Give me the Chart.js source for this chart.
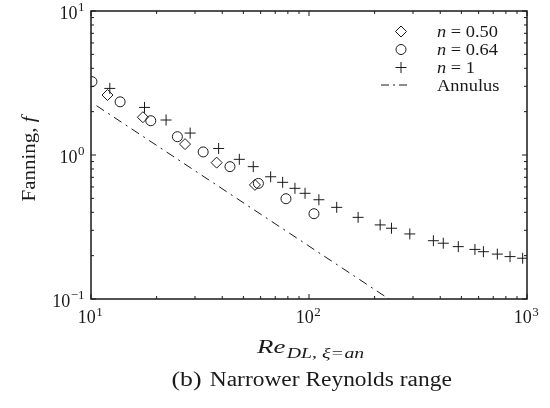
<!DOCTYPE html>
<html>
<head>
<meta charset="utf-8">
<script src="https://cdn.jsdelivr.net/npm/chart.js@4.4.1/dist/chart.umd.min.js"></script>
<style>
  html, body { margin: 0; padding: 0; background: #fff; }
  #wrap { width: 550px; height: 408px; position: relative; }
</style>
</head>
<body>
<div id="wrap"><canvas id="c" width="550" height="408"></canvas></div>
<script>
// ---- Data ----
const n050Re = [11.9, 17.3, 27.0, 37.7, 56.5];
const n050F  = [2.61, 1.83, 1.19, 0.885, 0.62];

const n064Re = [10.1, 13.6, 18.8, 24.9, 32.7, 43.4, 58.6, 78.4, 105.4];
const n064F  = [3.23, 2.34, 1.73, 1.34, 1.05, 0.83, 0.635, 0.497, 0.391];

const n1Re = [12.2, 17.6, 22.1, 28.5, 38.5, 47.9, 55.5, 66.7, 75.7, 86.2, 95.9, 111, 134, 168, 212, 239, 290, 372, 413, 484, 577, 631, 731, 836, 955];
const n1F  = [2.90, 2.14, 1.75, 1.42, 1.11, 0.933, 0.830, 0.706, 0.646, 0.587, 0.542, 0.489, 0.433, 0.369, 0.327, 0.310, 0.283, 0.254, 0.244, 0.231, 0.221, 0.213, 0.205, 0.197, 0.192];

const annRe = [10.6, 240];
const annF  = [2.2, 0.097];

const xTickExps = [1, 2, 3];
const yTickExps = [-1, 0, 1];
const legendLabels = ['0.50', '0.64', '1', 'Annulus'];
const xTitleMain = 'Re';
const yTitleMain = 'Fanning, ';
const yTitleVar = 'f';
const captionTag = '(b)';
const captionText = 'Narrower Reynolds range';

const toXY = (xs, ys) => xs.map((x, i) => ({ x: x, y: ys[i] }));

const INK = '#1a1a1a';
const SERIF = '"Liberation Serif", "Times New Roman", serif';

function runsWidth(ctx, runs) {
  let w = 0;
  for (const r of runs) { ctx.font = r.font; w += ctx.measureText(r.t).width; }
  return w;
}
function drawRuns(ctx, runs, x, y, sx) {
  sx = sx || 1;
  ctx.save();
  ctx.translate(x, y);
  ctx.scale(sx, 1);
  let cx = 0;
  for (const r of runs) {
    ctx.font = r.font;
    ctx.fillText(r.t, cx + (r.dx || 0), r.dy || 0);
    cx += ctx.measureText(r.t).width + (r.dx || 0);
  }
  ctx.restore();
}
function drawFit(ctx, runs, x, y, targetW) {
  const w = runsWidth(ctx, runs);
  drawRuns(ctx, runs, x, y, targetW / w);
  return targetW / w;
}
function powRuns(e) {
  const s = e < 0 ? '\u2212' + Math.abs(e) : String(e);
  return [
    { t: '10', font: '18px ' + SERIF },
    { t: s, font: '13px ' + SERIF, dy: -7.5, dx: 0.5 }
  ];
}

const decor = {
  id: 'decor',
  afterDraw(chart) {
    const ctx = chart.ctx;
    const ca = chart.chartArea;
    const xs = chart.scales.x, ys = chart.scales.y;
    ctx.save();
    ctx.strokeStyle = INK;
    ctx.fillStyle = INK;

    // frame
    ctx.lineWidth = 1.5;
    ctx.strokeRect(ca.left, ca.top, ca.right - ca.left, ca.bottom - ca.top);

    // ticks (inside, all four sides)
    ctx.lineWidth = 1;
    const majorLen = 5, minorLen = 3;
    for (let d = 1; d <= 3; d++) {
      for (let k = 1; k <= 9; k++) {
        const v = k * Math.pow(10, d);
        if (v > 1000) break;
        const px = xs.getPixelForValue(v);
        const len = k === 1 ? majorLen : minorLen;
        ctx.beginPath();
        ctx.moveTo(px, ca.bottom); ctx.lineTo(px, ca.bottom - len);
        ctx.moveTo(px, ca.top); ctx.lineTo(px, ca.top + len);
        ctx.stroke();
      }
    }
    for (let d = -1; d <= 1; d++) {
      for (let k = 1; k <= 9; k++) {
        const v = k * Math.pow(10, d);
        if (v > 10) break;
        const py = ys.getPixelForValue(v);
        const len = k === 1 ? majorLen : minorLen;
        ctx.beginPath();
        ctx.moveTo(ca.left, py); ctx.lineTo(ca.left + len, py);
        ctx.moveTo(ca.right, py); ctx.lineTo(ca.right - len, py);
        ctx.stroke();
      }
    }

    // tick labels
    ctx.textBaseline = 'alphabetic';
    ctx.textAlign = 'left';
    for (const e of xTickExps) {
      const px = xs.getPixelForValue(Math.pow(10, e));
      const runs = powRuns(e);
      const w = runsWidth(ctx, runs);
      drawRuns(ctx, runs, px - w / 2 - 1, ca.bottom + 24);
    }
    for (const e of yTickExps) {
      const py = ys.getPixelForValue(Math.pow(10, e));
      const runs = powRuns(e);
      const w = runsWidth(ctx, runs);
      drawRuns(ctx, runs, ca.left - 7 - w, py + 7.5);
    }

    // x title: Re_{DL,xi=an}
    drawFit(ctx, [
      { t: xTitleMain, font: 'italic 19px ' + SERIF },
      { t: 'DL', font: 'italic 14px ' + SERIF, dy: 5, dx: 1 },
      { t: ', ', font: '14px ' + SERIF, dy: 5 },
      { t: 'ξ', font: 'italic 14px ' + SERIF, dy: 5 },
      { t: '=', font: '14px ' + SERIF, dy: 5, dx: 1 },
      { t: 'an', font: 'italic 14px ' + SERIF, dy: 5, dx: 1 }
    ], 257, 353, 103);

    // y title (rotated)
    ctx.save();
    ctx.translate(35, 201.5);
    ctx.rotate(-Math.PI / 2);
    drawFit(ctx, [
      { t: yTitleMain, font: '18px ' + SERIF },
      { t: yTitleVar, font: 'italic 18px ' + SERIF }
    ], 0, 0, 85);
    ctx.restore();

    // caption
    drawFit(ctx, [
      { t: captionTag, font: '22px ' + SERIF },
      { t: ' ', font: '20px ' + SERIF, dx: 2 },
      { t: captionText, font: '20px ' + SERIF }
    ], 171.5, 386, 278);

    // legend
    const lx = 401, tx = 437;
    const rows = [31.5, 49.5, 67.5, 85];
    const styles = [
      { pointStyle: 'rectRot', radius: 5.5 },
      { pointStyle: 'circle', radius: 5 },
      { pointStyle: 'cross', radius: 5.5 }
    ];
    ctx.lineWidth = 1;
    let sxLeg = 1;
    for (let i = 0; i < 3; i++) {
      ctx.save();
      ctx.fillStyle = 'rgba(0,0,0,0)';
      Chart.helpers.drawPoint(ctx, { pointStyle: styles[i].pointStyle, radius: styles[i].radius, borderWidth: 1, rotation: 0 }, lx, rows[i]);
      ctx.restore();
      const runs = [
        { t: 'n', font: 'italic 17px ' + SERIF },
        { t: ' = ' + legendLabels[i], font: '17px ' + SERIF }
      ];
      if (i === 0) sxLeg = 61 / runsWidth(ctx, runs);
      drawRuns(ctx, runs, tx, rows[i] + 5.5, sxLeg);
    }
    ctx.setLineDash([8, 4, 2, 4]);
    ctx.beginPath();
    ctx.moveTo(381, rows[3]); ctx.lineTo(411, rows[3]);
    ctx.stroke();
    ctx.setLineDash([]);
    drawRuns(ctx, [{ t: legendLabels[3], font: '17px ' + SERIF }], tx, rows[3] + 5.5, sxLeg);

    ctx.restore();
  }
};

const ptCommon = { backgroundColor: 'rgba(0,0,0,0)', borderColor: INK, pointBorderColor: INK, pointBackgroundColor: 'rgba(0,0,0,0)', pointBorderWidth: 1, showLine: false, pointHoverRadius: 5 };

new Chart(document.getElementById('c'), {
  type: 'scatter',
  data: {
    datasets: [
      Object.assign({ label: 'n = 0.50', data: toXY(n050Re, n050F), pointStyle: 'rectRot', pointRadius: 5.5 }, ptCommon),
      Object.assign({ label: 'n = 0.64', data: toXY(n064Re, n064F), pointStyle: 'circle', pointRadius: 5 }, ptCommon),
      Object.assign({ label: 'n = 1', data: toXY(n1Re, n1F), pointStyle: 'cross', pointRadius: 5.5 }, ptCommon),
      { label: 'Annulus', data: toXY(annRe, annF), showLine: true, pointRadius: 0, borderColor: INK, borderWidth: 1, borderDash: [9, 5, 2, 5], fill: false }
    ]
  },
  options: {
    responsive: false,
    animation: false,
    devicePixelRatio: 1,
    layout: { padding: { left: 91, right: 23, top: 11, bottom: 109 } },
    plugins: { legend: { display: false }, tooltip: { enabled: false } },
    scales: {
      x: { type: 'logarithmic', min: 10, max: 1000, display: false },
      y: { type: 'logarithmic', min: 0.1, max: 10, display: false }
    }
  },
  plugins: [decor]
});
</script>
</body>
</html>
